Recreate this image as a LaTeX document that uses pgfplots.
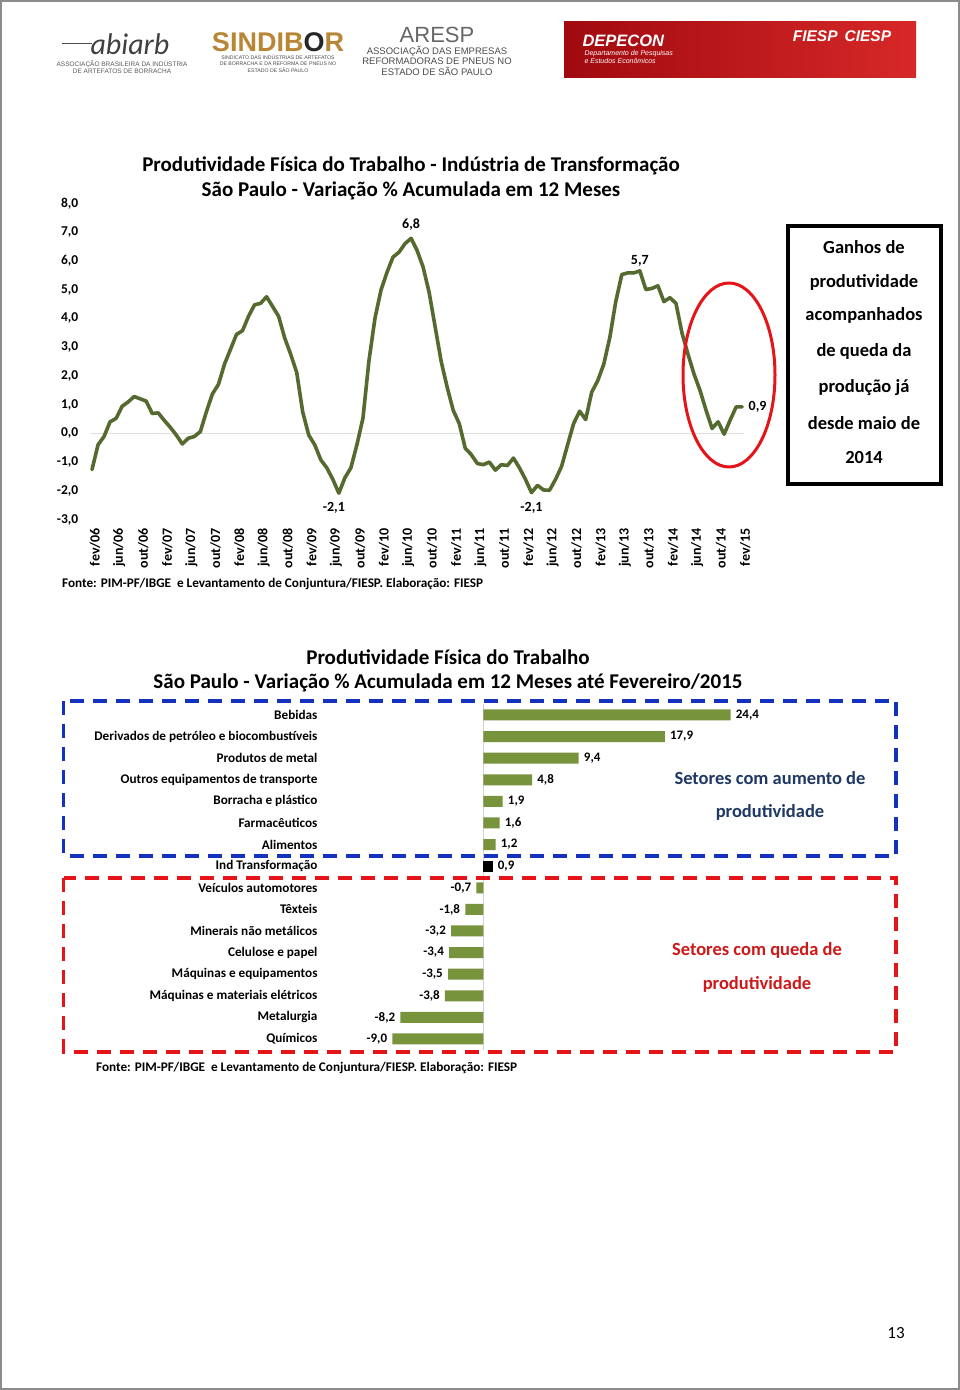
\documentclass[border=0pt]{standalone}
\usepackage{fontspec}
\setmainfont{Carlito}
\newfontfamily\arialf{Liberation Sans}
\usepackage{pgfplots}
\pgfplotsset{compat=1.18}
\definecolor{linegreen}{RGB}{84,106,46}
\definecolor{bargreen}{RGB}{119,147,60}
\definecolor{boxblue}{RGB}{20,50,190}
\definecolor{boxred}{RGB}{228,20,24}
\definecolor{txtblue}{RGB}{31,56,100}
\definecolor{txtred}{RGB}{205,25,25}
\definecolor{gold}{RGB}{184,134,52}
\newcommand{\fs}[1]{\fontsize{#1}{#1}\selectfont}

\begin{document}
\begin{tikzpicture}[x=1pt,y=1pt]
\useasboundingbox (0,0) rectangle (960,1390);
\fill[white] (0,0) rectangle (960,1390);
\draw[black!45, line width=1.2pt] (1,1) rectangle (959,1389);

% logos (header)
\draw[black!70, line width=0.8pt] (62,1347) -- (92,1347);
\node[font=\fs{30}\itshape, text=black!75] at (130,1346) {abiarb};
\node[font=\arialf\fs{6.5}, text=black!65] at (122,1326) {ASSOCIAÇÃO BRASILEIRA DA INDÚSTRIA};
\node[font=\arialf\fs{6.5}, text=black!65] at (122,1319) {DE ARTEFATOS DE BORRACHA};
\node[font=\arialf\fs{27}\bfseries, text=gold] at (278,1348) {SINDIB\textcolor{black!85}{O}R};
\node[font=\arialf\fs{5.2}, text=black!70] at (278,1333) {SINDICATO DAS INDÚSTRIAS DE ARTEFATOS};
\node[font=\arialf\fs{5.2}, text=black!70] at (278,1326) {DE BORRACHA E DA REFORMA DE PNEUS NO};
\node[font=\arialf\fs{5.2}, text=black!70] at (278,1320) {ESTADO DE SÃO PAULO};
\node[font=\arialf\fs{22}, text=black!60] at (437,1355) {ARESP};
\node[font=\arialf\fs{9.5}, text=black!70] at (437,1339) {ASSOCIAÇÃO DAS EMPRESAS};
\node[font=\arialf\fs{9.5}, text=black!70] at (437,1329) {REFORMADORAS DE PNEUS NO};
\node[font=\arialf\fs{9.5}, text=black!70] at (437,1319) {ESTADO DE SÃO PAULO};
\shade[left color={rgb,255:red,160;green,10;blue,15}, right color={rgb,255:red,215;green,40;blue,40}] (564,1312) rectangle (916,1368);
\node[font=\arialf\fs{16.5}\bfseries\itshape, text=white, anchor=west] at (579,1349) {DEPECON};
\node[font=\arialf\fs{7}\itshape, text=white, anchor=west] at (581,1336) {Departamento de Pesquisas};
\node[font=\arialf\fs{7}\itshape, text=white, anchor=west] at (581,1329) {e Estudos Econômicos};
\node[font=\arialf\fs{15.5}\bfseries\itshape, text=white] at (842,1354) {FIESP\hspace{7pt}CIESP};

% line chart titles
\node[font=\fs{21}\bfseries] at (411,1224) {Produtividade Física do Trabalho - Indústria de Transformação};
\node[font=\fs{21}\bfseries] at (411,1199) {São Paulo - Variação \% Acumulada em 12 Meses};

\begin{axis}[
    at={(90.2pt,870.4pt)}, anchor=south west,
    scale only axis, width=655.6pt, height=316.3pt,
    xmin=-0.3, xmax=108.6, ymin=-3, ymax=8,
    clip=false,
    axis line style={draw=none}, major tick length=0pt,
    xtick={0.5,4.5,...,108.5},
    xticklabels={fev/06,jun/06,out/06,fev/07,jun/07,out/07,fev/08,jun/08,out/08,
        fev/09,jun/09,out/09,fev/10,jun/10,out/10,fev/11,jun/11,out/11,
        fev/12,jun/12,out/12,fev/13,jun/13,out/13,fev/14,jun/14,out/14,fev/15},
    ytick={-3,...,8},
    yticklabels={{-3,0},{-2,0},{-1,0},{0,0},{1,0},{2,0},{3,0},{4,0},{5,0},{6,0},{7,0},{8,0}},
    x tick label style={font=\fs{14}\bfseries, rotate=90, anchor=east},
    xticklabel shift=5pt,
    y tick label style={font=\fs{13.5}\bfseries},
    yticklabel shift=8.5pt,
]
\draw[black!12, line width=0.8pt] (axis cs:-0.3,0) -- (axis cs:108.3,0);
% fev/06 .. fev/15, monthly
\addplot[linegreen, line width=3.6pt, line join=round, line cap=round] coordinates {
    (0,-1.26) (1,-0.40) (2,-0.11) (3,0.40) (4,0.52) (5,0.94) (6,1.09) (7,1.28)
    (8,1.20) (9,1.12) (10,0.69) (11,0.71) (12,0.45) (13,0.21) (14,-0.06) (15,-0.37)
    (16,-0.17) (17,-0.11) (18,0.06) (19,0.75) (20,1.37) (21,1.70) (22,2.40) (23,2.92)
    (24,3.44) (25,3.57) (26,4.07) (27,4.47) (28,4.52) (29,4.75) (30,4.41) (31,4.07)
    (32,3.32) (33,2.75) (34,2.12) (35,0.74) (36,-0.06) (37,-0.40) (38,-0.92) (39,-1.20)
    (40,-1.60) (41,-2.08) (42,-1.55) (43,-1.20) (44,-0.40) (45,0.52) (46,2.52) (47,4.00)
    (48,4.98) (49,5.60) (50,6.13) (51,6.30) (52,6.60) (53,6.78) (54,6.36) (55,5.78)
    (56,4.90) (57,3.70) (58,2.50) (59,1.60) (60,0.80) (61,0.34) (62,-0.52) (63,-0.74)
    (64,-1.05) (65,-1.09) (66,-1.00) (67,-1.28) (68,-1.09) (69,-1.12) (70,-0.86) (71,-1.20)
    (72,-1.60) (73,-2.06) (74,-1.81) (75,-1.97) (76,-1.98) (77,-1.60) (78,-1.15) (79,-0.40)
    (80,0.34) (81,0.77) (82,0.48) (83,1.43) (84,1.83) (85,2.40) (86,3.32) (87,4.58)
    (88,5.52) (89,5.58) (90,5.58) (91,5.65) (92,5.00) (93,5.04) (94,5.13) (95,4.58)
    (96,4.72) (97,4.52) (98,3.49) (99,2.75) (100,2.06) (101,1.49) (102,0.80) (103,0.17)
    (104,0.40) (105,-0.03) (106,0.46) (107,0.92) (108,0.92)
};
\node[font=\fs{14}\bfseries, above=4pt] at (axis cs:53,6.78) {6,8};
\node[font=\fs{14}\bfseries, below=6pt, xshift=-5pt] at (axis cs:41,-2.08) {-2,1};
\node[font=\fs{14}\bfseries, below=6pt] at (axis cs:73,-2.06) {-2,1};
\node[font=\fs{14}\bfseries, above=1pt] at (axis cs:91,5.65) {5,7};
\node[font=\fs{14}\bfseries, right=3pt] at (axis cs:108,0.92) {0,9};
\end{axis}

\draw[boxred, line width=3pt] (729,1015) ellipse [x radius=46, y radius=92];
\draw[black, line width=4pt] (788,1164) rectangle (941,906);
\foreach \t/\yy in {Ganhos de/1143.3, produtividade/1107.5, acompanhados/1074.5,
    de queda da/1038.3, produção já/1002.5, desde maio de/967, 2014/932}
  \node[font=\fs{18.5}\bfseries] at (864,\yy) {\t};

\node[font=\fs{13.2}\bfseries, anchor=west, inner sep=0pt] at (62,806) {Fonte: PIM-PF/IBGE\ \ e Levantamento de Conjuntura/FIESP. Elaboração: FIESP};

% bar chart
\node[font=\fs{21}\bfseries] at (448,733) {Produtividade Física do Trabalho};
\node[font=\fs{21}\bfseries] at (448,707) {São Paulo - Variação \% Acumulada em 12 Meses até Fevereiro/2015};

\begin{axis}[
    at={(321pt,685.8pt)}, anchor=north west,
    scale only axis, width=567.7pt, height=345.6pt,
    xmin=-16.04, xmax=40, ymin=-0.5, ymax=15.5, y dir=reverse,
    clip=false,
    axis line style={draw=none}, major tick length=0pt,
    xtick=\empty,
    ytick={0,...,15},
    yticklabels={Bebidas,Derivados de petróleo e biocombustíveis,Produtos de metal,
        Outros equipamentos de transporte,Borracha e plástico,Farmacêuticos,Alimentos,
        Ind Transformação,Veículos automotores,Têxteis,Minerais não metálicos,
        Celulose e papel,Máquinas e equipamentos,Máquinas e materiais elétricos,
        Metalurgia,Químicos},
    y tick label style={font=\fs{13.2}\bfseries},
    xbar, bar width=11pt, bar shift=0pt,
    point meta=x,
    nodes near coords={\pgfmathprintnumber[fixed,fixed zerofill,precision=1,use comma,assume math mode=true]{\pgfplotspointmeta}},
    every node near coord/.append style={font=\fs{13}\bfseries, inner sep=5pt},
]
\draw[black!18, line width=0.8pt] (axis cs:0,-0.5) -- (axis cs:0,15.5);
\addplot[fill=bargreen, draw=none, every node near coord/.append style={anchor=west}] coordinates {
    (24.4,0) (17.9,1) (9.4,2) (4.8,3) (1.9,4) (1.6,5) (1.2,6)
};
\addplot[fill=black, draw=none, every node near coord/.append style={anchor=west}] coordinates {
    (0.9,7)
};
\addplot[fill=bargreen, draw=none, every node near coord/.append style={anchor=east}] coordinates {
    (-0.7,8) (-1.8,9) (-3.2,10) (-3.4,11) (-3.5,12) (-3.8,13) (-8.2,14) (-9.0,15)
};
\end{axis}

\draw[boxblue, line width=3.5pt, dash pattern=on 14pt off 9pt] (63.5,689) rectangle (896,534);
\draw[boxred, line width=3.5pt, dash pattern=on 14pt off 9pt] (63.5,512) rectangle (896,338);
\node[font=\fs{18.5}\bfseries, text=txtblue] at (770,612) {Setores com aumento de};
\node[font=\fs{18.5}\bfseries, text=txtblue] at (770,577.3) {produtividade};
\node[font=\fs{18.5}\bfseries, text=txtred] at (757,440) {Setores com queda de};
\node[font=\fs{18.5}\bfseries, text=txtred] at (757,406) {produtividade};

\node[font=\fs{13.2}\bfseries, anchor=west, inner sep=0pt] at (96,322) {Fonte: PIM-PF/IBGE\ \ e Levantamento de Conjuntura/FIESP. Elaboração: FIESP};

\node[font=\fs{17}] at (896,57) {13};
\end{tikzpicture}
\end{document}
